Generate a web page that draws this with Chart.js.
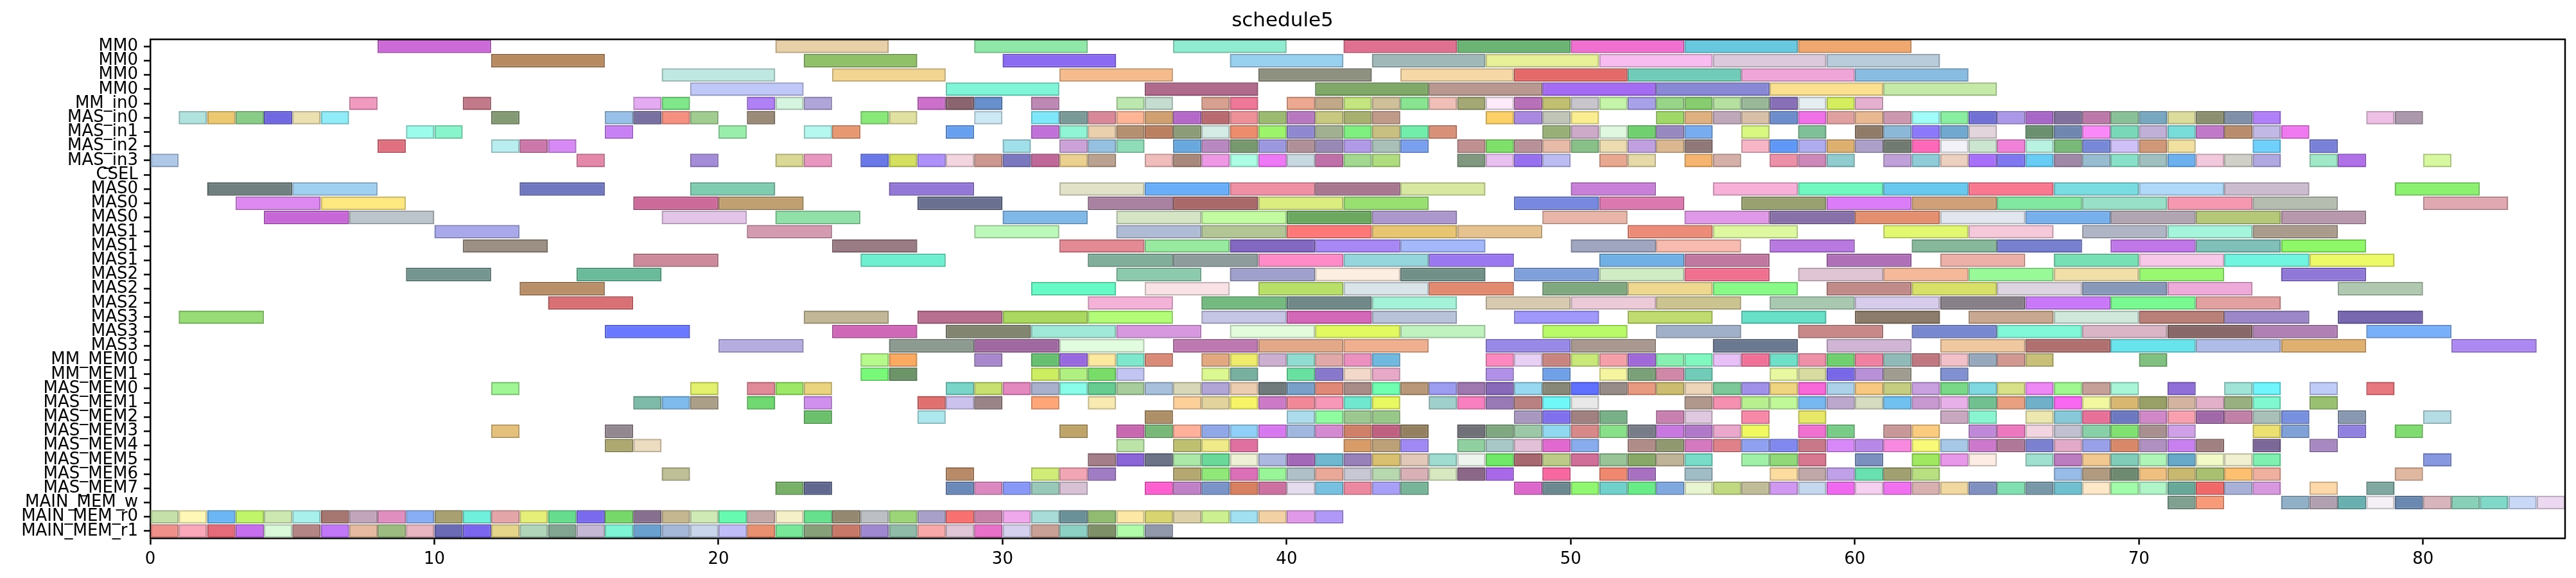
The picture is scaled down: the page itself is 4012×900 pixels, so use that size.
<!DOCTYPE html>
<html><head><meta charset="utf-8">
<script src="https://cdn.jsdelivr.net/npm/chart.js@4.4.1/dist/chart.umd.min.js"></script>
<style>html,body{margin:0;padding:0;background:#fff}#wrap{width:4012px;height:900px;position:relative}</style>
</head><body><div id="wrap"><canvas id="c"></canvas></div>
<script>
const chartTitle = 'schedule5';
const rowNames = ['MM0','MM0','MM0','MM0','MM_in0','MAS_in0','MAS_in1','MAS_in2','MAS_in3','CSEL','MAS0','MAS0','MAS0','MAS1','MAS1','MAS1','MAS2','MAS2','MAS2','MAS3','MAS3','MAS3','MM_MEM0','MM_MEM1','MAS_MEM0','MAS_MEM1','MAS_MEM2','MAS_MEM3','MAS_MEM4','MAS_MEM5','MAS_MEM6','MAS_MEM7','MAIN_MEM_w','MAIN_MEM_r0','MAIN_MEM_r1'];
const xTicks = [0,10,20,30,40,50,60,70,80];

const s00=[[8,12],[22,26],[29,33],[36,40],[42,46],[46,50],[50,54],[54,58],[58,62]];
const s01=[[12,16],[23,27],[30,34],[38,42],[43,47],[47,51],[51,55],[55,59],[59,63]];
const s02=[[18,22],[24,28],[32,36],[39,43],[44,48],[48,52],[52,56],[56,60],[60,64]];
const s03=[[19,23],[28,32],[35,39],[41,45],[45,49],[49,53],[53,57],[57,61],[61,65]];
const s04=[[7,8],[11,12],[17,18],[18,19],[21,22],[22,23],[23,24],[27,28],[28,29],[29,30],[31,32],[34,35],[35,36],[37,38],[38,39],[40,41],[41,42],[42,43],[43,44],[44,45],[45,46],[46,47],[47,48],[48,49],[49,50],[50,51],[51,52],[52,53],[53,54],[54,55],[55,56],[56,57],[57,58],[58,59],[59,60],[60,61]];
const s05=[[1,2],[2,3],[3,4],[4,5],[5,6],[6,7],[12,13],[16,17],[17,18],[18,19],[19,20],[21,22],[25,26],[26,27],[29,30],[31,32],[32,33],[33,34],[34,35],[35,36],[36,37],[37,38],[38,39],[39,40],[40,41],[41,42],[42,43],[43,44],[47,48],[48,49],[49,50],[50,51],[53,54],[54,55],[55,56],[56,57],[57,58],[58,59],[59,60],[60,61],[61,62],[62,63],[63,64],[64,65],[65,66],[66,67],[67,68],[68,69],[69,70],[70,71],[71,72],[72,73],[73,74],[74,75],[78,79],[79,80]];
const s06=[[9,10],[10,11],[16,17],[20,21],[23,24],[24,25],[28,29],[31,32],[32,33],[33,34],[34,35],[35,36],[36,37],[37,38],[38,39],[39,40],[40,41],[41,42],[42,43],[43,44],[44,45],[45,46],[49,50],[50,51],[51,52],[52,53],[53,54],[54,55],[56,57],[58,59],[60,61],[61,62],[62,63],[63,64],[64,65],[66,67],[67,68],[68,69],[69,70],[70,71],[71,72],[72,73],[73,74],[74,75],[75,76]];
const s07=[[8,9],[12,13],[13,14],[14,15],[30,31],[32,33],[33,34],[34,35],[36,37],[37,38],[38,39],[39,40],[40,41],[41,42],[42,43],[43,44],[44,45],[46,47],[47,48],[48,49],[49,50],[50,51],[51,52],[52,53],[53,54],[54,55],[56,57],[57,58],[58,59],[59,60],[60,61],[61,62],[62,63],[63,64],[64,65],[65,66],[66,67],[67,68],[68,69],[69,70],[70,71],[71,72],[74,75],[76,77]];
const s08=[[0,1],[15,16],[19,20],[22,23],[23,24],[25,26],[26,27],[27,28],[28,29],[29,30],[30,31],[31,32],[32,33],[33,34],[35,36],[36,37],[37,38],[38,39],[39,40],[40,41],[41,42],[42,43],[43,44],[46,47],[47,48],[48,49],[49,50],[51,52],[52,53],[54,55],[55,56],[57,58],[58,59],[59,60],[61,62],[62,63],[63,64],[64,65],[65,66],[66,67],[67,68],[68,69],[69,70],[70,71],[71,72],[72,73],[73,74],[74,75],[76,77],[77,78],[80,81]];
const s09=[];
const s10=[[2,5],[5,8],[13,16],[19,22],[26,29],[32,35],[35,38],[38,41],[41,44],[44,47],[50,53],[55,58],[58,61],[61,64],[64,67],[67,70],[70,73],[73,76],[79,82]];
const s11=[[3,6],[6,9],[17,20],[20,23],[27,30],[33,36],[36,39],[39,42],[42,45],[48,51],[51,54],[56,59],[59,62],[62,65],[65,68],[68,71],[71,74],[74,77],[80,83]];
const s12=[[4,7],[7,10],[18,21],[22,25],[30,33],[34,37],[37,40],[40,43],[43,46],[49,52],[54,57],[57,60],[60,63],[63,66],[66,69],[69,72],[72,75],[75,78]];
const s13=[[10,13],[21,24],[29,32],[34,37],[37,40],[40,43],[43,46],[46,49],[52,55],[55,58],[61,64],[64,67],[68,71],[71,74],[74,77]];
const s14=[[11,14],[24,27],[32,35],[35,38],[38,41],[41,44],[44,47],[50,53],[53,56],[57,60],[62,65],[65,68],[69,72],[72,75],[75,78]];
const s15=[[17,20],[25,28],[33,36],[36,39],[39,42],[42,45],[45,48],[51,54],[54,57],[59,62],[63,66],[67,70],[70,73],[73,76],[76,79]];
const s16=[[9,12],[15,18],[34,37],[38,41],[41,44],[44,47],[48,51],[51,54],[54,57],[58,61],[61,64],[64,67],[67,70],[70,73],[75,78]];
const s17=[[13,16],[31,34],[35,38],[39,42],[42,45],[45,48],[49,52],[52,55],[55,58],[59,62],[62,65],[65,68],[68,71],[71,74],[77,80]];
const s18=[[14,17],[33,36],[37,40],[40,43],[43,46],[47,50],[50,53],[53,56],[57,60],[60,63],[63,66],[66,69],[69,72],[72,75]];
const s19=[[1,4],[23,26],[27,30],[30,33],[33,36],[37,40],[40,43],[43,46],[48,51],[52,55],[56,59],[60,63],[64,67],[67,70],[70,73],[73,76],[77,80]];
const s20=[[16,19],[24,27],[28,31],[31,34],[34,37],[38,41],[41,44],[44,47],[49,52],[53,56],[58,61],[62,65],[65,68],[68,71],[71,74],[74,77],[78,81]];
const s21=[[20,23],[26,29],[29,32],[32,35],[36,39],[39,42],[42,45],[47,50],[50,53],[55,58],[59,62],[63,66],[66,69],[69,72],[72,75],[75,78],[81,84]];
const s22=[[25,26],[26,27],[29,30],[31,32],[32,33],[33,34],[34,35],[35,36],[37,38],[38,39],[39,40],[40,41],[41,42],[42,43],[43,44],[47,48],[48,49],[49,50],[50,51],[51,52],[52,53],[53,54],[54,55],[55,56],[56,57],[57,58],[58,59],[59,60],[60,61],[61,62],[62,63],[63,64],[64,65],[65,66],[66,67],[70,71]];
const s23=[[25,26],[26,27],[31,32],[32,33],[33,34],[34,35],[37,38],[38,39],[40,41],[41,42],[42,43],[43,44],[47,48],[49,50],[51,52],[52,53],[53,54],[54,55],[57,58],[58,59],[59,60],[60,61],[61,62],[63,64]];
const s24=[[12,13],[19,20],[21,22],[22,23],[23,24],[28,29],[29,30],[30,31],[31,32],[32,33],[33,34],[34,35],[35,36],[36,37],[37,38],[38,39],[39,40],[40,41],[41,42],[42,43],[43,44],[44,45],[45,46],[46,47],[47,48],[48,49],[49,50],[50,51],[51,52],[52,53],[53,54],[54,55],[55,56],[56,57],[57,58],[58,59],[59,60],[60,61],[61,62],[62,63],[63,64],[64,65],[65,66],[66,67],[67,68],[68,69],[69,70],[71,72],[73,74],[74,75],[76,77],[78,79]];
const s25=[[17,18],[18,19],[19,20],[21,22],[23,24],[27,28],[28,29],[29,30],[31,32],[33,34],[36,37],[37,38],[38,39],[39,40],[40,41],[41,42],[42,43],[43,44],[45,46],[46,47],[47,48],[48,49],[49,50],[50,51],[54,55],[55,56],[56,57],[57,58],[58,59],[59,60],[60,61],[61,62],[62,63],[63,64],[64,65],[65,66],[66,67],[67,68],[68,69],[69,70],[70,71],[71,72],[72,73],[73,74],[74,75],[76,77]];
const s26=[[23,24],[27,28],[35,36],[40,41],[41,42],[42,43],[43,44],[48,49],[49,50],[50,51],[51,52],[53,54],[54,55],[56,57],[58,59],[63,64],[64,65],[66,67],[67,68],[68,69],[69,70],[70,71],[71,72],[72,73],[73,74],[74,75],[75,76],[77,78],[80,81]];
const s27=[[12,13],[16,17],[32,33],[34,35],[35,36],[36,37],[37,38],[38,39],[39,40],[40,41],[41,42],[42,43],[43,44],[44,45],[46,47],[47,48],[48,49],[49,50],[50,51],[51,52],[52,53],[53,54],[54,55],[55,56],[56,57],[58,59],[59,60],[61,62],[62,63],[64,65],[65,66],[66,67],[67,68],[68,69],[69,70],[70,71],[71,72],[74,75],[75,76],[77,78],[79,80]];
const s28=[[16,17],[17,18],[34,35],[36,37],[37,38],[38,39],[42,43],[43,44],[44,45],[46,47],[47,48],[48,49],[49,50],[50,51],[52,53],[53,54],[54,55],[55,56],[56,57],[57,58],[58,59],[59,60],[60,61],[61,62],[62,63],[63,64],[64,65],[65,66],[66,67],[67,68],[68,69],[69,70],[70,71],[71,72],[72,73],[74,75],[76,77]];
const s29=[[33,34],[34,35],[35,36],[36,37],[37,38],[38,39],[39,40],[40,41],[41,42],[42,43],[43,44],[44,45],[45,46],[46,47],[47,48],[48,49],[49,50],[50,51],[51,52],[52,53],[53,54],[54,55],[56,57],[57,58],[58,59],[60,61],[62,63],[63,64],[64,65],[66,67],[67,68],[68,69],[69,70],[70,71],[71,72],[72,73],[73,74],[74,75],[80,81]];
const s30=[[18,19],[28,29],[31,32],[32,33],[33,34],[36,37],[37,38],[38,39],[39,40],[40,41],[41,42],[42,43],[43,44],[44,45],[45,46],[46,47],[47,48],[49,50],[51,52],[52,53],[54,55],[57,58],[58,59],[59,60],[60,61],[61,62],[62,63],[67,68],[68,69],[69,70],[70,71],[71,72],[72,73],[73,74],[74,75],[79,80]];
const s31=[[22,23],[23,24],[28,29],[29,30],[30,31],[31,32],[32,33],[35,36],[36,37],[37,38],[38,39],[39,40],[40,41],[41,42],[42,43],[43,44],[44,45],[48,49],[49,50],[50,51],[51,52],[52,53],[53,54],[54,55],[55,56],[56,57],[57,58],[58,59],[59,60],[60,61],[61,62],[62,63],[63,64],[64,65],[65,66],[66,67],[67,68],[68,69],[69,70],[70,71],[71,72],[72,73],[73,74],[74,75],[76,77],[78,79]];
const s32=[[71,72],[72,73],[75,76],[76,77],[77,78],[78,79],[79,80],[80,81],[81,82],[82,83],[83,84],[84,85]];
const s33=[[0,1],[1,2],[2,3],[3,4],[4,5],[5,6],[6,7],[7,8],[8,9],[9,10],[10,11],[11,12],[12,13],[13,14],[14,15],[15,16],[16,17],[17,18],[18,19],[19,20],[20,21],[21,22],[22,23],[23,24],[24,25],[25,26],[26,27],[27,28],[28,29],[29,30],[30,31],[31,32],[32,33],[33,34],[34,35],[35,36],[36,37],[37,38],[38,39],[39,40],[40,41],[41,42]];
const s34=[[0,1],[1,2],[2,3],[3,4],[4,5],[5,6],[6,7],[7,8],[8,9],[9,10],[10,11],[11,12],[12,13],[13,14],[14,15],[15,16],[16,17],[17,18],[18,19],[19,20],[20,21],[21,22],[22,23],[23,24],[24,25],[25,26],[26,27],[27,28],[28,29],[29,30],[30,31],[31,32],[32,33],[33,34],[34,35],[35,36]];

const c00=['#cc6ad8','#e8d0a8','#90e8a8','#90ecd0','#e07090','#6cb474','#f070d0','#68c8e0','#f0a870'];
const c01=['#b88a60','#90c068','#8b6af2','#98d0f0','#a0b8b8','#e8f098','#f8bcf0','#dccadc','#b8ccdc'];
const c02=['#c0e8e2','#f2d590','#f5bb8d','#8e9080','#f5d8a5','#e46a6a','#70ccb8','#f0a5d8','#88bce0'];
const c03=['#c0c8f8','#80f5d8','#b06a8c','#80a868','#b89890','#a46cf2','#8888d5','#fbe090','#c5eaa8'];
const c04=['#f09ac0','#c27a8a','#e4aaf2','#80e88a','#b080f5','#d5f5e0','#b0a5d8','#cc70cc','#8a6570','#6890cc','#be88b5','#bce8b0','#c5ddd0','#d8a090','#ef7898','#eca890','#c0a888','#c5e580','#d0c09a','#88e490','#f0c0b8','#a4a875','#fdeafa','#b870b8','#c0c070','#c8c5cc','#c5f5a8','#a8a0e8','#98d588','#88cc70','#b5e0a0','#98b898','#8870b8','#e5eef0','#d5ee60','#e5b0d0'];
const c05=['#b0e2de','#ecc870','#88cc88','#7068e0','#ebe0b0','#90ecf8','#849a74','#98c0e8','#7870a0','#f59080','#a0cc90','#9a8a78','#88e878','#e0e0a0','#cce8f5','#7ee8fa','#7a9a98','#d88898','#fdb595','#d0a070','#b468c8','#b86a70','#ee9098','#9cbb70','#b878c0','#c8c880','#a8b070','#c09a88','#fdd068','#a888e0','#c0c5b8','#fbee90','#a0d868','#dfb080','#c0a8bb','#d8c0a8','#6c8ccc','#f070e8','#e0a0a0','#e8b890','#cc98b0','#a0fcf8','#88eea0','#7070d5','#ac98e8','#a868c8','#80709c','#bb78a8','#88c098','#78a8c0','#dcdc9c','#8c9070','#8090a8','#b080f8','#eec0e5','#ac98ac'];
const c06=['#9cfcec','#88f5cc','#c880f5','#98eeaa','#b5f8f0','#e89870','#68a0f0','#c070d8','#90f5d5','#ebd0ae','#b59070','#bb8060','#8c9c78','#d5ebe5','#ec8c6c','#9cf56a','#9088d0','#a0b090','#7ef080','#c8c080','#70eeaa','#d89078','#98b078','#ccaac8','#e0f8e0','#70d070','#9888c0','#78acf0','#d8f880','#80c098','#907a68','#8cb8d8','#8c78fa','#70a8d0','#e2d5dc','#6a9070','#7088b0','#fb88f8','#78d8b8','#c0b0d8','#78dcd8','#c078c8','#b88c6c','#c2b8e5','#f078f0'];
const c07=['#e07080','#b8eef0','#cc77aa','#d78af5','#a0e0ea','#cca2d8','#95c0e0','#8edcb8','#68a8de','#b888c0','#789870','#9c98e0','#b09098','#9888b5','#b09ae8','#a8c0b8','#78a0ee','#c09090','#7ee068','#b89098','#e8bba8','#88c088','#ecdcb0','#c0a0e0','#dbb890','#907878','#f8b5c5','#6098f8','#b0acf0','#deb070','#aca0c8','#707a70','#ff68b8','#f2f2f8','#cce5d0','#f080d8','#b8f2e0','#78b878','#7888d8','#d0c0f8','#d09878','#f2e0a0','#70d0fc','#7880d8'];
const c08=['#b0c8e8','#e488aa','#a48cd8','#dad895','#e898c0','#6a78e8','#d5e060','#ae90fa','#f2d5df','#cc9890','#7c78c0','#c06898','#ecd090','#bba290','#f0bcbc','#a8887a','#ee98e5','#adfde5','#ee78f5','#c8d8e0','#c070a8','#a2d890','#b0dc80','#809880','#e8c0f0','#9670ee','#bcbcf2','#e8a890','#e5daa8','#f5b570','#d4b0a8','#ec90a8','#cc88b8','#90ccd0','#c0a0d8','#90ccd8','#ecd0c0','#a870f8','#8078f0','#68ccf5','#a088a8','#98bcd0','#88e0c8','#a0c0c0','#6cb0ee','#f2c8dc','#d0d0c8','#b0a8e0','#a0e8c8','#b070e8','#d8f8a0'];
const c09=[];
const c10=['#708080','#a0d0f0','#7078c0','#80ccb0','#9378d8','#e2e2c8','#6aaefa','#f090a5','#a87890','#d8e8a0','#c880d8','#f8b0d8','#70f8c0','#68c8ee','#f87890','#78dce0','#b0d8f8','#ccbcd0','#8cf070'];
const c11=['#dc88f0','#fee880','#cc6a9a','#c0a070','#6a7090','#a880a0','#a86868','#dced80','#98e070','#7888e0','#dc78b0','#98a070','#dc7cf8','#d0a078','#80e8a0','#98e0c8','#f598b0','#b5bcb0','#e0a8b0'];
const c12=['#c868d8','#bcc5cc','#e3c5ea','#90e0a8','#80b8e8','#d5e5c5','#c2fba0','#6ca860','#ac98cc','#e8b5a8','#e098e8','#8870a8','#e49070','#e2e6ee','#78b0ee','#b0a5b0','#b5c878','#b898ac'];
const c13=['#a8a8ea','#d49ab0','#bdf8bb','#b0bcd5','#b2c595','#ff7878','#e8c570','#e5c290','#ec8c78','#def8a0','#e2f870','#f5c8da','#b0b5c5','#a5f5dc','#aa9c8c'];
const c14=['#9c9085','#9a7c85','#e48a95','#98eaa0','#8268c0','#a888f5','#a4b8fa','#a0a5c0','#f8bbb0','#b87ae0','#88b89c','#7880d0','#c078e8','#80c0b8','#8ef868'];
const c15=['#cc8a9a','#6ef0d0','#80ae9a','#8e9c9c','#ff8cc8','#95d5dc','#9a78f0','#70b0e5','#c078a0','#b070b8','#ecb0a8','#78e0b5','#f8c8e8','#70f5e0','#ecfa68'];
const c16=['#759590','#6abb9a','#8ccaae','#a0a0cc','#fceee0','#709088','#80a0dc','#d0ecc5','#f07090','#e0c5d5','#f5b898','#98fa98','#f0e0a8','#98f870','#9078d8'];
const c17=['#b88f68','#66fac6','#f8e2e6','#b8e068','#d8e4e8','#e28a70','#80a880','#eed890','#88fa88','#c08a88','#d8e068','#dcd4e0','#8898b8','#eeaad8','#b0c8b0'];
const c18=['#d87075','#f5b2d8','#74ba80','#708888','#a4f2d8','#d8cab0','#eccad8','#ccc490','#a8c8b0','#d8ccec','#888088','#c878f8','#78fa90','#e2a0a0'];
const c19=['#98dc78','#c2b898','#b87090','#aad860','#b2fc78','#c5c5e5','#d468b8','#b8c2d8','#a098fa','#c0dc70','#68e0c8','#8c7c6c','#c8a890','#d0e8dc','#b88078','#9c88c8','#7868b0'];
const c20=['#6a78ff','#d068b8','#828670','#a0e8d8','#d898e0','#e2fcdc','#e2fa60','#c0f2c0','#b8fa68','#a0b0c8','#c88888','#7888d0','#80f8d8','#dab5c5','#886868','#b080b5','#78b0fa'];
const c21=['#b5ade0','#8c9a90','#a068a0','#e2fce0','#be78b0','#e2a888','#f0b090','#9888e8','#a89890','#6a7890','#d0b5d5','#f0c8a0','#b07070','#68e4ec','#b0bce8','#e0b070','#ac88f2'];
const c22=['#b5fa8a','#fbaa60','#a888cc','#66c070','#9868e0','#fde8a0','#7ee8cc','#da8a78','#e2a880','#eeec6a','#ccaed0','#90dcd0','#e0a8a8','#ec90c0','#70b8e0','#ff88c0','#e8d0f5','#c88580','#c8e878','#f5a0a8','#a068d8','#88f0b0','#80f8c0','#e8c0f8','#f07098','#6ee0c8','#ee90a8','#70d070','#f080a0','#90bab8','#c07880','#f2c0c8','#98a8bc','#d09890','#c8c078','#80c080'];
const c23=['#78fa78','#6c9468','#ccee60','#b0f080','#78dd68','#c2c5f2','#dcf890','#78b0a0','#68e0a0','#8878cc','#f2d8c8','#e8a8c8','#b090e8','#70a0e8','#f5f5a0','#7aa078','#d088a8','#70ccb8','#e8f8a0','#d8dca0','#7868e8','#b890d8','#a09c90','#8090d0'];
const c24=['#a0f595','#e2f06e','#e08a98','#9ee868','#ead480','#78d5c8','#c8e070','#e488c0','#a8b0cc','#88fce8','#66cc90','#a8cc9c','#a8c0dc','#d8d8b8','#b0a5d5','#eccdb0','#707a7c','#78a0c8','#e08878','#a88c88','#70ffb0','#b89878','#9c9cf0','#a078b0','#8868b8','#98d8f0','#888878','#6070ff','#988c88','#e89a80','#ccbc70','#ecd5b8','#7cc898','#a090e8','#f0d580','#f868d8','#acd0e8','#f8c880','#c4cc80','#c8a0e0','#78d888','#80d8e0','#d8e088','#ee88f5','#a0f890','#c4a098','#a8f5d8','#9070d8','#a0e4d8','#70f5fc','#c0ccf8','#e87880'];
const c25=['#7ebaa8','#80bbee','#ac9f88','#70d870','#d090ee','#e07070','#ccc2ee','#9a8488','#fea678','#f8eab0','#fdd09a','#e2d49c','#f8f468','#cc7ac8','#f08898','#f898b8','#70e8d0','#e8f860','#a0d0cc','#f880c0','#9878b5','#b88080','#70f8f8','#e8e8e8','#b0988c','#f590b0','#b8f090','#c0fa98','#78b8f0','#bca8cc','#d5dcc0','#70c0f0','#c898d0','#e8b0e8','#70c090','#e8a080','#70b0c8','#f868f0','#f2f8a0','#d8b870','#98a068','#d4b4a0','#e2b0c8','#98b080','#80f8d0','#98c070'];
const c26=['#6cc06c','#ace8ee','#ae9068','#acdcec','#90fca0','#9cc890','#98c888','#a898c0','#8070ee','#a08080','#78b088','#c880b0','#e0c8e0','#f888a8','#e8e868','#c8a8c0','#88f5d0','#ece8b0','#88c8d8','#e87098','#6c78c0','#d088c8','#f8a0b0','#a068a8','#c080a8','#a8c0b8','#7890e0','#8898b0','#b4dce4'];
const c27=['#e5c07a','#948890','#bea468','#c868b0','#78b878','#ffb09a','#90a8e8','#90d0f8','#d878f0','#a0b8e0','#d48ad0','#d08068','#c06080','#948060','#707078','#80a880','#9cc8a8','#90d8f0','#d88888','#88e088','#787c88','#c878e0','#b078c8','#eaa8cc','#f0fa60','#f070d0','#78cc88','#c89898','#fbcc80','#c088d8','#ec78c0','#f2d5e0','#c0c0d0','#88d0a8','#80e070','#a89090','#d0a0e8','#ece070','#80a0d8','#9080e0','#80dc70'];
const c28=['#aca870','#ecdcc0','#bce4a8','#bec070','#f0ea88','#e070a0','#d89c68','#bca078','#a088f5','#90d0a0','#a8c8c8','#e2c0d8','#e068d0','#88acee','#b08c88','#909870','#d478c0','#e08088','#90a0f0','#8088f0','#c87888','#d888f8','#b888e8','#f888e0','#f8fa78','#a8c8e8','#cc78cc','#b07898','#7c80d0','#e2aac8','#98a0e8','#d88868','#b090c0','#c880f0','#a08080','#7c6898','#a888c0'];
const c29=['#a47e88','#8a66d8','#6e7488','#ace8a8','#6ad898','#eef0d5','#acb8e0','#a468b8','#70b8d0','#9880b8','#d8c070','#e2c8b8','#a0dcd0','#eef5ee','#70e868','#a86870','#bccc88','#d07098','#98c498','#88a868','#c0b498','#78dcc8','#a0f0a8','#90d878','#d87890','#7c90c0','#a0e860','#e898e8','#fcece4','#a0e0d0','#bc7cc0','#f0c890','#80ccb8','#b0f5b8','#68a8c8','#f2fac8','#f0f0d0','#80f0b0','#8898e0'];
const c30=['#c0c098','#b88a68','#d2ec78','#f2a5b5','#a07cc5','#b4a870','#90e878','#dc70b8','#98f598','#b0c0c8','#eaa898','#c8c8d5','#b8d8b0','#d8b0b5','#d8e8c0','#8c6888','#a868e8','#f868a0','#f08870','#a870c0','#a0bcc5','#fddca0','#c0a8a8','#c0a0e8','#68e0b0','#a0a070','#b8e080','#98bce8','#b09a80','#6e8a70','#f0c080','#c8b870','#a8c070','#fcc070','#f0b0a0','#e0b8a0'];
const c31=['#78b068','#606890','#6a88b8','#dc88c0','#8898f8','#98c8b8','#d8c0d5','#ff60d0','#c080c8','#7a94c8','#d88060','#cc70a0','#e5dcee','#78c0e0','#ec88a0','#a8a0f8','#78b498','#dc68cc','#6c8890','#90f870','#70d0cc','#68ec88','#80a8e0','#e8f5d0','#c0d880','#c0bc98','#d098f0','#c5d8ee','#f068f0','#f5d0f0','#f070f0','#d8b0b0','#f0d8a0','#8090c0','#80e0b0','#7898a8','#70c0d0','#fde8c8','#a0fca8','#b0f5c8','#68a898','#f06868','#a8b0d8','#d898e0','#fdd8a8','#80a8a0'];
const c32=['#80a090','#f89a78','#90b0c8','#b0a0b0','#68b0b0','#f5f0f5','#6a88b0','#d8b4bc','#88d0b8','#80d8c8','#cad8f8','#ecd8f0'];
const c33=['#c5e0a8','#fff7b5','#6cb6f5','#c0f56a','#cde8b0','#a8f0ec','#a57570','#c2a5bb','#e08ec0','#88aef5','#a8a070','#6ef0dc','#e4a5a8','#e5ef78','#66dd8e','#7a6aee','#77d86a','#87708f','#c5b890','#d0eab5','#66fab0','#c4a8a8','#f5f0c8','#66e08c','#948870','#bcc0c5','#9cd578','#a8a0c8','#f87070','#c880a8','#f0a8ec','#a8dcd8','#6a9098','#90bb70','#fde8a5','#d8d470','#dcd0a8','#ccf090','#a0e0f0','#f2d2a5','#e098e8','#b098f8'];
const c34=['#f0908a','#fba8bb','#e56a7a','#c66eee','#d8f8d8','#b48585','#c277f8','#e5baa0','#9cbb80','#e8b5c2','#6a6ab5','#7a66ee','#e5d58a','#b0d5b8','#82a592','#c4b8d5','#7ef5d5','#6aa0d0','#a5b8d8','#c8d5ea','#c0bcf8','#e89070','#78e898','#88a07a','#c87868','#a088d0','#90bba8','#f8a8a8','#dfc5d5','#e870c8','#d5d0ee','#c8a095','#8cd0c4','#7e9068','#b0fca8','#9098aa'];

const segs=[s00,s01,s02,s03,s04,s05,s06,s07,s08,s09,s10,s11,s12,s13,s14,s15,s16,s17,s18,s19,s20,s21,s22,s23,s24,s25,s26,s27,s28,s29,s30,s31,s32,s33,s34];
const cols=[c00,c01,c02,c03,c04,c05,c06,c07,c08,c09,c10,c11,c12,c13,c14,c15,c16,c17,c18,c19,c20,c21,c22,c23,c24,c25,c26,c27,c28,c29,c30,c31,c32,c33,c34];

function darker(hex,f){
  const n=parseInt(hex.slice(1),16);
  const r=Math.round(((n>>16)&255)*f),g=Math.round(((n>>8)&255)*f),b=Math.round((n&255)*f);
  return 'rgb('+r+','+g+','+b+')';
}

const catLabels = rowNames.map((_,i)=>String(i));
const points=[], bg=[], bd=[];
segs.forEach((row,ri)=>{
  row.forEach((sg,k)=>{
    points.push({x:[sg[0],sg[1]], y:String(ri)});
    const c=(cols[ri][k])||'#aaaaaa';
    bg.push(c); bd.push(darker(c,0.8));
  });
});

const framePlugin={id:'frame',afterDraw(chart){
  const a=chart.chartArea, ctx=chart.ctx;
  ctx.save(); ctx.strokeStyle='#000'; ctx.lineWidth=2.5;
  ctx.beginPath(); ctx.moveTo(a.left,a.top); ctx.lineTo(a.right,a.top); ctx.lineTo(a.right,a.bottom); ctx.stroke();
  ctx.restore();
}};

new Chart(document.getElementById('c'),{
  type:'bar',
  data:{labels:catLabels,datasets:[{data:points,backgroundColor:bg,borderColor:bd,borderWidth:2.5,borderSkipped:false,categoryPercentage:1,barPercentage:0.95}]},
  options:{
    indexAxis:'y',responsive:true,maintainAspectRatio:false,animation:false,devicePixelRatio:1,
    layout:{padding:{left:0,right:17,top:0,bottom:0}},
    plugins:{legend:{display:false},tooltip:{enabled:false},
      title:{display:true,text:chartTitle,color:'#000',font:{family:'DejaVu Sans',size:31,weight:'normal'},padding:{top:14,bottom:10}}},
    scales:{
      x:{type:'linear',position:'bottom',min:0,max:85,
        afterBuildTicks(s){s.ticks=xTicks.map(v=>({value:v}));},
        ticks:{color:'#000',font:{family:'DejaVu Sans',size:26},padding:8,includeBounds:false,maxRotation:0},
        grid:{display:true,drawOnChartArea:false,drawTicks:true,tickLength:10,tickWidth:2.5,tickColor:'#000'},
        border:{display:true,color:'#000',width:2.5},
        afterFit(s){s.height=62;}},
      y:{type:'category',labels:catLabels,offset:true,
        ticks:{color:'#000',autoSkip:false,font:{family:'DejaVu Sans',size:26},padding:9,callback:(v,i)=>rowNames[i]},
        grid:{display:true,offset:false,drawOnChartArea:false,drawTicks:true,tickLength:10,tickWidth:2.5,tickColor:'#000'},
        border:{display:true,color:'#000',width:2.5},
        afterFit(s){s.width=234;}}
    }
  },
  plugins:[framePlugin]
});
</script></body></html>
